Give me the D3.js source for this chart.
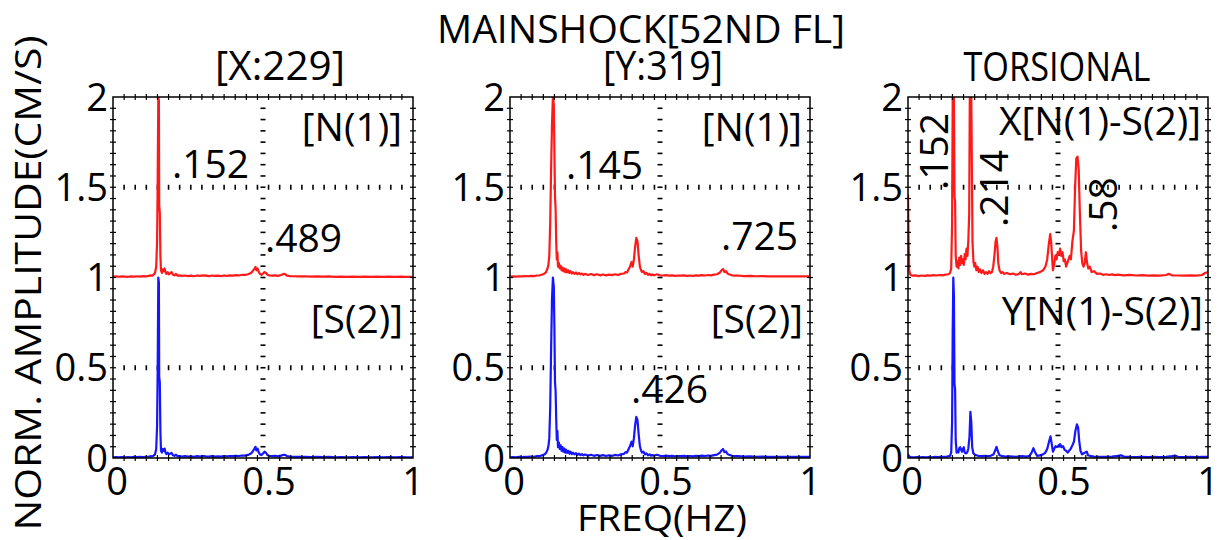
<!DOCTYPE html>
<html>
<head>
<meta charset="utf-8">
<script src="https://cdn.jsdelivr.net/npm/d3@7"></script>
<style>
  body { margin: 0; background: #fff; }
  text { font-family: "Open Sans", "DejaVu Sans", sans-serif; fill: #000; }
</style>
</head>
<body>
<svg id="chart" width="1219" height="540"></svg>
<script>
// ---- text and ticks ----
const mainTitle = "MAINSHOCK[52ND FL]";
const panelTitles = ["[X:229]", "[Y:319]", "TORSIONAL"];
const upperTags = ["[N(1)]", "[N(1)]", "X[N(1)-S(2)]"];
const lowerTags = ["[S(2)]", "[S(2)]", "Y[N(1)-S(2)]"];
const peakTexts = [[".152", ".489"], [".145", ".725", ".426"], [".152", ".214", ".58"]];
const freqTicks = [0, 0.5, 1];
const ampTicks = [0, 0.5, 1, 1.5, 2];
const gridFreq = [0.5];
const gridAmp = [0.5, 1.5];
const xTitle = "FREQ(HZ)";
const yTitle = "NORM. AMPLITUDE(CM/S)";

// ---- spectra: [frequency (Hz), normalized amplitude] ----
// upper trace (N(1) / X) is plotted with +1 offset, lower trace (S(2) / Y) at 0
const xN1 = [[0,0.004],[0.01,0.006],[0.02,0.004],[0.03,0.006],[0.04,0.005],[0.05,0.004],[0.06,0.006],[0.07,0.005],[0.08,0.007],[0.09,0.005],[0.1,0.008],[0.11,0.006],[0.12,0.009],[0.125,0.012],[0.13,0.01],[0.135,0.015],[0.14,0.025],[0.144,0.06],[0.147,0.2],[0.149,0.55],[0.151,1.0],[0.153,0.98],[0.154,0.4],[0.156,0.36],[0.158,0.12],[0.16,0.04],[0.163,0.025],[0.166,0.045],[0.169,0.035],[0.172,0.05],[0.175,0.03],[0.178,0.02],[0.182,0.03],[0.186,0.018],[0.19,0.022],[0.195,0.03],[0.2,0.015],[0.205,0.012],[0.21,0.02],[0.215,0.01],[0.22,0.012],[0.23,0.009],[0.24,0.011],[0.25,0.008],[0.26,0.01],[0.27,0.007],[0.28,0.011],[0.29,0.009],[0.3,0.012],[0.31,0.01],[0.32,0.008],[0.33,0.011],[0.34,0.009],[0.35,0.01],[0.36,0.008],[0.37,0.011],[0.38,0.009],[0.39,0.012],[0.4,0.01],[0.41,0.013],[0.42,0.011],[0.43,0.015],[0.44,0.014],[0.45,0.018],[0.46,0.025],[0.465,0.035],[0.47,0.045],[0.475,0.058],[0.478,0.04],[0.482,0.05],[0.486,0.03],[0.49,0.02],[0.495,0.015],[0.5,0.022],[0.505,0.03],[0.51,0.025],[0.515,0.015],[0.52,0.012],[0.53,0.01],[0.54,0.012],[0.55,0.009],[0.56,0.014],[0.57,0.02],[0.575,0.018],[0.58,0.01],[0.59,0.008],[0.6,0.007],[0.62,0.006],[0.64,0.007],[0.66,0.005],[0.68,0.006],[0.7,0.005],[0.72,0.006],[0.74,0.004],[0.76,0.005],[0.78,0.004],[0.8,0.005],[0.82,0.004],[0.84,0.005],[0.86,0.004],[0.88,0.005],[0.9,0.004],[0.92,0.005],[0.94,0.004],[0.96,0.005],[0.98,0.004],[1,0.004]];

const xS2 = [[0,0.004],[0.01,0.005],[0.02,0.004],[0.03,0.005],[0.04,0.004],[0.05,0.005],[0.06,0.004],[0.07,0.006],[0.08,0.005],[0.09,0.006],[0.1,0.005],[0.11,0.007],[0.12,0.008],[0.125,0.01],[0.13,0.009],[0.135,0.013],[0.14,0.02],[0.144,0.05],[0.147,0.18],[0.149,0.5],[0.151,1.0],[0.153,0.97],[0.154,0.45],[0.156,0.42],[0.158,0.15],[0.16,0.04],[0.163,0.03],[0.166,0.05],[0.169,0.04],[0.172,0.052],[0.175,0.03],[0.178,0.022],[0.182,0.03],[0.186,0.02],[0.19,0.024],[0.195,0.028],[0.2,0.015],[0.205,0.012],[0.21,0.018],[0.215,0.01],[0.22,0.011],[0.23,0.008],[0.24,0.01],[0.25,0.008],[0.26,0.009],[0.27,0.007],[0.28,0.01],[0.29,0.008],[0.3,0.011],[0.31,0.009],[0.32,0.008],[0.33,0.01],[0.34,0.008],[0.35,0.009],[0.36,0.008],[0.37,0.01],[0.38,0.009],[0.39,0.011],[0.4,0.01],[0.41,0.012],[0.42,0.011],[0.43,0.014],[0.44,0.013],[0.45,0.017],[0.46,0.025],[0.465,0.035],[0.47,0.048],[0.475,0.062],[0.478,0.042],[0.482,0.052],[0.486,0.03],[0.49,0.02],[0.495,0.016],[0.5,0.025],[0.505,0.035],[0.51,0.028],[0.515,0.016],[0.52,0.012],[0.53,0.01],[0.54,0.012],[0.55,0.009],[0.56,0.013],[0.57,0.018],[0.575,0.016],[0.58,0.01],[0.59,0.008],[0.6,0.007],[0.62,0.006],[0.64,0.007],[0.66,0.005],[0.68,0.006],[0.7,0.005],[0.72,0.006],[0.74,0.004],[0.76,0.005],[0.78,0.004],[0.8,0.005],[0.82,0.004],[0.84,0.005],[0.86,0.004],[0.88,0.005],[0.9,0.004],[0.92,0.005],[0.94,0.004],[0.96,0.005],[0.98,0.004],[1,0.004]];

const yN1 = [[0,0.005],[0.01,0.006],[0.02,0.005],[0.03,0.007],[0.04,0.006],[0.05,0.008],[0.06,0.007],[0.07,0.009],[0.08,0.008],[0.09,0.011],[0.1,0.012],[0.105,0.015],[0.11,0.018],[0.115,0.022],[0.12,0.03],[0.125,0.05],[0.128,0.07],[0.131,0.12],[0.134,0.3],[0.137,0.6],[0.14,0.85],[0.143,1.0],[0.146,0.96],[0.148,0.7],[0.15,0.45],[0.152,0.38],[0.154,0.2],[0.156,0.1],[0.158,0.14],[0.16,0.06],[0.163,0.08],[0.166,0.05],[0.169,0.065],[0.172,0.04],[0.175,0.055],[0.178,0.035],[0.181,0.05],[0.184,0.03],[0.187,0.045],[0.19,0.028],[0.194,0.04],[0.198,0.025],[0.202,0.035],[0.206,0.022],[0.21,0.03],[0.215,0.02],[0.22,0.028],[0.225,0.018],[0.23,0.025],[0.235,0.017],[0.24,0.022],[0.245,0.015],[0.25,0.02],[0.26,0.014],[0.27,0.019],[0.28,0.013],[0.29,0.018],[0.3,0.012],[0.31,0.017],[0.32,0.012],[0.33,0.016],[0.34,0.013],[0.35,0.018],[0.36,0.014],[0.37,0.02],[0.38,0.022],[0.385,0.03],[0.39,0.028],[0.395,0.045],[0.4,0.06],[0.405,0.085],[0.409,0.06],[0.413,0.1],[0.417,0.17],[0.421,0.22],[0.425,0.2],[0.429,0.12],[0.433,0.06],[0.437,0.04],[0.44,0.03],[0.445,0.035],[0.45,0.02],[0.455,0.025],[0.46,0.015],[0.465,0.02],[0.47,0.013],[0.475,0.016],[0.48,0.012],[0.49,0.018],[0.5,0.012],[0.51,0.011],[0.52,0.013],[0.53,0.01],[0.54,0.012],[0.55,0.009],[0.56,0.011],[0.57,0.01],[0.58,0.012],[0.59,0.009],[0.6,0.011],[0.61,0.009],[0.62,0.012],[0.63,0.01],[0.64,0.013],[0.65,0.011],[0.66,0.014],[0.67,0.012],[0.68,0.016],[0.69,0.018],[0.7,0.028],[0.705,0.04],[0.71,0.047],[0.715,0.03],[0.72,0.035],[0.725,0.022],[0.73,0.018],[0.74,0.012],[0.75,0.01],[0.76,0.011],[0.78,0.008],[0.8,0.009],[0.82,0.007],[0.84,0.008],[0.86,0.006],[0.88,0.007],[0.9,0.006],[0.92,0.007],[0.94,0.006],[0.96,0.007],[0.98,0.006],[1,0.006]];

const yS2 = [[0,0.004],[0.01,0.005],[0.02,0.004],[0.03,0.006],[0.04,0.005],[0.05,0.007],[0.06,0.006],[0.07,0.008],[0.08,0.007],[0.09,0.01],[0.1,0.011],[0.105,0.014],[0.11,0.017],[0.115,0.02],[0.12,0.028],[0.125,0.045],[0.128,0.065],[0.131,0.11],[0.134,0.28],[0.137,0.6],[0.14,0.88],[0.143,1.0],[0.146,0.95],[0.148,0.72],[0.15,0.42],[0.152,0.37],[0.154,0.22],[0.156,0.1],[0.158,0.15],[0.16,0.06],[0.163,0.085],[0.166,0.05],[0.169,0.07],[0.172,0.04],[0.175,0.06],[0.178,0.035],[0.181,0.052],[0.184,0.03],[0.187,0.046],[0.19,0.028],[0.194,0.04],[0.198,0.024],[0.202,0.035],[0.206,0.021],[0.21,0.03],[0.215,0.02],[0.22,0.027],[0.225,0.017],[0.23,0.024],[0.235,0.016],[0.24,0.021],[0.245,0.015],[0.25,0.019],[0.26,0.013],[0.27,0.018],[0.28,0.012],[0.29,0.017],[0.3,0.012],[0.31,0.016],[0.32,0.011],[0.33,0.015],[0.34,0.012],[0.35,0.017],[0.36,0.014],[0.37,0.02],[0.38,0.023],[0.385,0.032],[0.39,0.03],[0.395,0.048],[0.4,0.065],[0.405,0.09],[0.409,0.065],[0.413,0.11],[0.417,0.18],[0.421,0.228],[0.425,0.21],[0.429,0.13],[0.433,0.065],[0.437,0.04],[0.44,0.03],[0.445,0.035],[0.45,0.02],[0.455,0.026],[0.46,0.015],[0.465,0.02],[0.47,0.013],[0.475,0.016],[0.48,0.012],[0.49,0.018],[0.5,0.012],[0.51,0.011],[0.52,0.013],[0.53,0.01],[0.54,0.012],[0.55,0.009],[0.56,0.011],[0.57,0.01],[0.58,0.012],[0.59,0.009],[0.6,0.011],[0.61,0.009],[0.62,0.012],[0.63,0.01],[0.64,0.013],[0.65,0.011],[0.66,0.014],[0.67,0.012],[0.68,0.016],[0.69,0.019],[0.7,0.03],[0.705,0.042],[0.71,0.05],[0.715,0.032],[0.72,0.036],[0.725,0.022],[0.73,0.018],[0.74,0.012],[0.75,0.01],[0.76,0.011],[0.78,0.008],[0.8,0.009],[0.82,0.007],[0.84,0.008],[0.86,0.006],[0.88,0.007],[0.9,0.006],[0.92,0.007],[0.94,0.006],[0.96,0.007],[0.98,0.006],[1,0.006]];

const tX = [[0,0.46],[0.002,0.2],[0.004,0.04],[0.008,0.015],[0.015,0.01],[0.025,0.012],[0.035,0.008],[0.045,0.011],[0.055,0.009],[0.065,0.012],[0.075,0.01],[0.085,0.013],[0.095,0.011],[0.105,0.014],[0.115,0.012],[0.125,0.016],[0.135,0.018],[0.14,0.025],[0.144,0.05],[0.147,0.3],[0.149,1.0],[0.153,1.0],[0.155,0.45],[0.157,0.42],[0.159,0.12],[0.162,0.06],[0.165,0.09],[0.168,0.05],[0.171,0.11],[0.174,0.07],[0.177,0.12],[0.18,0.08],[0.183,0.1],[0.186,0.07],[0.189,0.13],[0.192,0.1],[0.195,0.16],[0.198,0.12],[0.201,0.2],[0.204,0.35],[0.206,1.0],[0.211,1.0],[0.213,0.6],[0.215,0.2],[0.218,0.09],[0.221,0.06],[0.224,0.08],[0.228,0.04],[0.232,0.06],[0.236,0.03],[0.24,0.045],[0.245,0.025],[0.25,0.04],[0.255,0.02],[0.26,0.03],[0.265,0.02],[0.27,0.035],[0.275,0.025],[0.28,0.03],[0.284,0.06],[0.288,0.12],[0.292,0.2],[0.295,0.22],[0.298,0.17],[0.301,0.08],[0.305,0.04],[0.31,0.025],[0.315,0.03],[0.32,0.02],[0.33,0.025],[0.34,0.018],[0.35,0.022],[0.36,0.015],[0.37,0.02],[0.375,0.03],[0.38,0.018],[0.39,0.022],[0.4,0.016],[0.41,0.02],[0.42,0.018],[0.43,0.025],[0.44,0.03],[0.45,0.04],[0.458,0.06],[0.464,0.1],[0.469,0.18],[0.474,0.24],[0.477,0.2],[0.48,0.12],[0.483,0.04],[0.487,0.07],[0.491,0.12],[0.495,0.1],[0.499,0.14],[0.503,0.13],[0.507,0.16],[0.511,0.12],[0.515,0.14],[0.519,0.09],[0.523,0.1],[0.527,0.06],[0.531,0.08],[0.535,0.1],[0.539,0.12],[0.543,0.1],[0.548,0.2],[0.553,0.26],[0.557,0.5],[0.561,0.66],[0.565,0.67],[0.569,0.6],[0.573,0.35],[0.577,0.15],[0.581,0.08],[0.585,0.06],[0.589,0.08],[0.593,0.14],[0.597,0.08],[0.601,0.05],[0.606,0.06],[0.612,0.03],[0.62,0.035],[0.63,0.02],[0.64,0.022],[0.65,0.015],[0.66,0.018],[0.67,0.014],[0.68,0.017],[0.69,0.013],[0.7,0.016],[0.72,0.012],[0.74,0.015],[0.76,0.011],[0.78,0.013],[0.8,0.01],[0.82,0.012],[0.84,0.01],[0.86,0.014],[0.87,0.02],[0.88,0.012],[0.9,0.011],[0.92,0.01],[0.94,0.012],[0.96,0.01],[0.98,0.014],[0.99,0.025],[1,0.03]];

const tY = [[0,0.02],[0.004,0.008],[0.01,0.005],[0.02,0.004],[0.03,0.005],[0.04,0.004],[0.05,0.005],[0.06,0.004],[0.07,0.005],[0.08,0.004],[0.09,0.006],[0.1,0.005],[0.11,0.006],[0.12,0.007],[0.13,0.008],[0.14,0.012],[0.144,0.03],[0.147,0.2],[0.149,0.7],[0.151,1.0],[0.153,0.9],[0.155,0.41],[0.157,0.38],[0.159,0.1],[0.162,0.03],[0.165,0.04],[0.168,0.03],[0.171,0.055],[0.174,0.06],[0.177,0.045],[0.18,0.035],[0.183,0.05],[0.186,0.06],[0.189,0.03],[0.193,0.025],[0.197,0.03],[0.201,0.05],[0.205,0.12],[0.208,0.256],[0.211,0.2],[0.214,0.06],[0.218,0.025],[0.222,0.02],[0.228,0.015],[0.235,0.012],[0.245,0.01],[0.255,0.012],[0.265,0.01],[0.275,0.012],[0.285,0.02],[0.29,0.04],[0.295,0.062],[0.3,0.035],[0.305,0.015],[0.315,0.01],[0.325,0.008],[0.34,0.009],[0.36,0.007],[0.38,0.01],[0.395,0.008],[0.405,0.012],[0.412,0.03],[0.418,0.054],[0.424,0.03],[0.43,0.012],[0.44,0.015],[0.45,0.02],[0.458,0.03],[0.464,0.05],[0.47,0.09],[0.475,0.12],[0.479,0.08],[0.483,0.035],[0.487,0.05],[0.492,0.065],[0.497,0.06],[0.502,0.07],[0.507,0.077],[0.512,0.06],[0.517,0.065],[0.522,0.045],[0.527,0.04],[0.532,0.03],[0.537,0.04],[0.542,0.05],[0.548,0.07],[0.553,0.09],[0.558,0.15],[0.563,0.186],[0.567,0.17],[0.571,0.09],[0.575,0.04],[0.58,0.02],[0.585,0.025],[0.59,0.03],[0.596,0.035],[0.6,0.015],[0.61,0.01],[0.62,0.008],[0.64,0.007],[0.66,0.006],[0.68,0.008],[0.7,0.012],[0.71,0.015],[0.72,0.008],[0.74,0.006],[0.76,0.005],[0.78,0.006],[0.8,0.005],[0.82,0.006],[0.84,0.005],[0.86,0.006],[0.88,0.01],[0.89,0.013],[0.9,0.007],[0.92,0.005],[0.94,0.006],[0.96,0.005],[0.98,0.006],[1,0.006]];

const upperSeries = [xN1, yN1, tX];
const lowerSeries = [xS2, yS2, tY];

// ---- layout ----
const plotLefts = [113, 510, 908];
const plotW = 300, plotTop = 97, plotBottom = 458;
const RED = "#ff1a1a", BLUE = "#1515ff";
const tickFont = 38, labelFont = 39;
const freqLabelShift = [4, 6, 0];

// placement of the peak frequency labels, per panel: [x, y, rotated]
const peakPos = [
  [[172, 178, false], [265, 252, false]],
  [[566, 179, false], [721, 250, false], [631, 403, false]],
  [[948, 190, true], [1008, 227, true], [1117, 232, true]]
];
const upperTagPos = [[402, 141], [802, 141], [1201, 135]];
const lowerTagPos = [[403, 333], [803, 333], [1203, 325]];
const titlePos = [[280, 80, 130], [663, 80, 120], [1057, 81, 187]];

const svg = d3.select("#chart");

// titles
svg.append("text").attr("x", 641).attr("y", 43)
  .attr("text-anchor", "middle").attr("font-size", 39)
  .attr("textLength", 408).attr("lengthAdjust", "spacingAndGlyphs")
  .text(mainTitle);

panelTitles.forEach((t, i) => {
  svg.append("text").attr("x", titlePos[i][0]).attr("y", titlePos[i][1])
    .attr("text-anchor", "middle").attr("font-size", 40)
    .attr("textLength", titlePos[i][2]).attr("lengthAdjust", "spacingAndGlyphs")
    .text(t);
});

svg.append("text")
  .attr("transform", "translate(41,283) rotate(-90)")
  .attr("text-anchor", "middle").attr("font-size", 37)
  .attr("textLength", 495).attr("lengthAdjust", "spacingAndGlyphs")
  .text(yTitle);

svg.append("text").attr("x", 662).attr("y", 531)
  .attr("text-anchor", "middle").attr("font-size", 36)
  .attr("textLength", 170).attr("lengthAdjust", "spacingAndGlyphs")
  .text(xTitle);

const xMinor = d3.range(1, 27).map(k => k / 27);
const yMinor = d3.range(1, 32).map(k => k / 16);

plotLefts.forEach((left, i) => {
  const x = d3.scaleLinear().domain([0, 1]).range([left, left + plotW]);
  const y = d3.scaleLinear().domain([0, 2]).range([plotBottom, plotTop]);
  const g = svg.append("g");

  const clipId = "clip" + i;
  g.append("clipPath").attr("id", clipId).append("rect")
    .attr("x", x(0)).attr("y", y(2)).attr("width", plotW).attr("height", plotBottom - plotTop);

  // dotted grid, drawn as short perpendicular dashes
  gridAmp.forEach(a => {
    g.append("g").selectAll("line").data(xMinor.filter(f => f > 0.02 && f < 0.98)).join("line")
      .attr("x1", d => x(d)).attr("x2", d => x(d))
      .attr("y1", y(a) - 2.5).attr("y2", y(a) + 2.5)
      .attr("stroke", "#000").attr("stroke-width", 1.6);
  });
  gridFreq.forEach(f => {
    g.append("g").selectAll("line").data(yMinor).join("line")
      .attr("x1", x(f) - 2.5).attr("x2", x(f) + 2.5)
      .attr("y1", d => y(d)).attr("y2", d => y(d))
      .attr("stroke", "#000").attr("stroke-width", 1.6);
  });

  // spectra
  const lineUpper = d3.line().x(d => x(d[0])).y(d => y(d[1] + 1));
  const lineLower = d3.line().x(d => x(d[0])).y(d => y(d[1]));
  const curves = g.append("g").attr("clip-path", `url(#${clipId})`);
  curves.append("path").datum(upperSeries[i]).attr("d", lineUpper)
    .attr("fill", "none").attr("stroke", RED).attr("stroke-width", 2.2).attr("stroke-linejoin", "round");
  curves.append("path").datum(lowerSeries[i]).attr("d", lineLower)
    .attr("fill", "none").attr("stroke", BLUE).attr("stroke-width", 2.2).attr("stroke-linejoin", "round");

  // frame
  g.append("rect").attr("x", x(0)).attr("y", y(2)).attr("width", plotW).attr("height", plotBottom - plotTop)
    .attr("fill", "none").attr("stroke", "#000").attr("stroke-width", 1.5);

  // minor ticks on all four sides
  const tk = 3;
  g.append("g").selectAll("line").data(xMinor).join("line")
    .attr("x1", d => x(d)).attr("x2", d => x(d)).attr("y1", plotBottom - tk).attr("y2", plotBottom + tk)
    .attr("stroke", "#000").attr("stroke-width", 1.2);
  g.append("g").selectAll("line").data(xMinor).join("line")
    .attr("x1", d => x(d)).attr("x2", d => x(d)).attr("y1", plotTop - tk).attr("y2", plotTop + tk)
    .attr("stroke", "#000").attr("stroke-width", 1.2);
  g.append("g").selectAll("line").data(yMinor).join("line")
    .attr("y1", d => y(d)).attr("y2", d => y(d)).attr("x1", x(0) - tk).attr("x2", x(0) + tk)
    .attr("stroke", "#000").attr("stroke-width", 1.2);
  g.append("g").selectAll("line").data(yMinor).join("line")
    .attr("y1", d => y(d)).attr("y2", d => y(d)).attr("x1", x(1) - tk).attr("x2", x(1) + tk)
    .attr("stroke", "#000").attr("stroke-width", 1.2);

  // tick labels
  g.append("g").selectAll("text").data(ampTicks).join("text")
    .attr("x", x(0) - 5).attr("y", d => y(d)).attr("dy", "0.36em")
    .attr("text-anchor", "end").attr("font-size", tickFont)
    .text(d => d3.format("~g")(d));
  g.append("g").selectAll("text").data(freqTicks).join("text")
    .attr("x", (d, k) => x(d) + freqLabelShift[k]).attr("y", 495)
    .attr("text-anchor", "middle").attr("font-size", tickFont)
    .text(d => d3.format("~g")(d));

  // trace tags
  g.append("text").attr("x", upperTagPos[i][0]).attr("y", upperTagPos[i][1])
    .attr("text-anchor", "end").attr("font-size", labelFont).text(upperTags[i]);
  g.append("text").attr("x", lowerTagPos[i][0]).attr("y", lowerTagPos[i][1])
    .attr("text-anchor", "end").attr("font-size", labelFont).text(lowerTags[i]);

  // peak frequency labels
  peakTexts[i].forEach((t, k) => {
    const [px, py, rot] = peakPos[i][k];
    g.append("text")
      .attr("transform", rot ? `translate(${px},${py}) rotate(-90)` : `translate(${px},${py})`)
      .attr("font-size", labelFont).text(t);
  });
});
</script>
</body>
</html>
